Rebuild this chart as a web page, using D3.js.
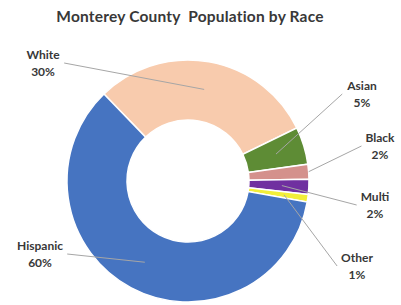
<!DOCTYPE html>
<meta charset="utf-8">
<style>
    body { margin: 0; background: #fff; }
    svg text { font-family: Lato, "Open Sans", sans-serif; font-weight: bold; fill: #383838; }
    .title { font-size: 15.5px; white-space: pre; letter-spacing: 0.2px; }
    .lbl { font-size: 12px; }
</style>
<script src="https://d3js.org/d3.v7.min.js"></script>

<svg id="chart" width="401" height="305"></svg>

<script>
    // data
    var categories = ["White", "Asian", "Black", "Multi", "Other", "Hispanic"];
    var values = [30, 5, 2, 2, 1, 60];
    var pctLabels = ["30%", "5%", "2%", "2%", "1%", "60%"];

    // styling
    var colors = ["#F8CBAD", "#5E8C35", "#D4918C", "#7030A0", "#F2EE3A", "#4674C1"];
    // label placement (offset from donut centre) and where the leader line ends
    var labelOffset = [[-145, -117], [174, -86], [192, -34], [187, 25], [169, 86], [-148, 74]];
    var leaderRadius = [93, 92, 121, 94, 97, 92];

    var svg = d3.select("#chart"),
        width = +svg.attr("width"),
        height = +svg.attr("height");

    var cx = 188, cy = 181,
        outerR = 121, innerR = 61;

    svg.append("text")
        .attr("class", "title")
        .attr("x", 190)
        .attr("y", 22)
        .attr("text-anchor", "middle")
        .text("Monterey County  Population by Race");

    var start = -44 * Math.PI / 180;
    var pie = d3.pie()
        .sort(null)
        .startAngle(start)
        .endAngle(start + 2 * Math.PI);

    var arcs = pie(values);
    var arc = d3.arc().innerRadius(innerR).outerRadius(outerR);

    var g = svg.append("g").attr("transform", "translate(" + cx + "," + cy + ")");

    g.selectAll("path")
        .data(arcs)
        .enter().append("path")
        .attr("d", arc)
        .style("fill", function(d, i) { return colors[i]; })
        .style("stroke", "#fff")
        .style("stroke-width", 1.5);

    // labels
    var labels = g.selectAll("g.label")
        .data(arcs)
        .enter().append("g")
        .attr("class", "label");

    labels.each(function(d, i) {
        var sel = d3.select(this);
        var lx = labelOffset[i][0], ly = labelOffset[i][1];
        var t1 = sel.append("text").attr("class", "lbl")
            .attr("x", lx).attr("y", ly - 8.5)
            .attr("text-anchor", "middle")
            .attr("dominant-baseline", "middle")
            .text(categories[i]);
        sel.append("text").attr("class", "lbl")
            .attr("x", lx).attr("y", ly + 8.5)
            .attr("text-anchor", "middle")
            .attr("dominant-baseline", "middle")
            .text(pctLabels[i]);

        var bb = t1.node().getBBox();
        var mid = (d.startAngle + d.endAngle) / 2;
        var ex = leaderRadius[i] * Math.sin(mid),
            ey = -leaderRadius[i] * Math.cos(mid);
        var sx = lx < 0 ? bb.x + bb.width + 4 : bb.x - 4;
        var sy = ly - 1;

        sel.insert("line", "text")
            .attr("x1", sx).attr("y1", sy)
            .attr("x2", ex).attr("y2", ey)
            .style("stroke", "#A6A6A6")
            .style("stroke-width", 1);
    });
</script>
